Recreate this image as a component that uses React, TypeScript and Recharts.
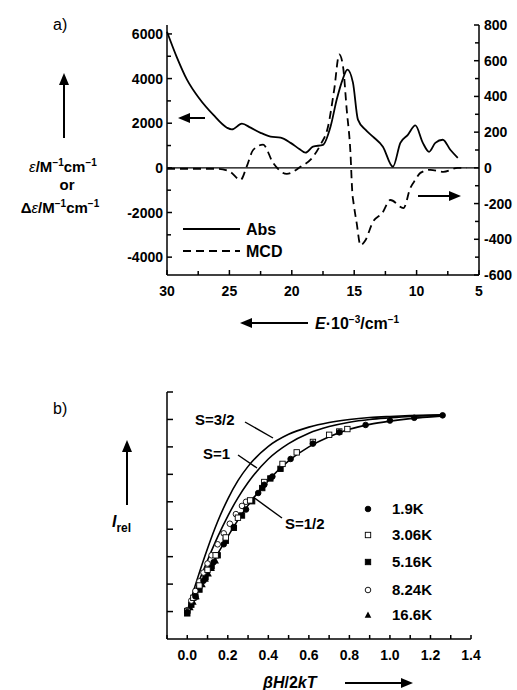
import React from "react";
import {
  ComposedChart,
  Line,
  LineChart,
  ReferenceLine,
  Scatter,
  XAxis,
  YAxis,
} from "recharts";

const FONT = '"Liberation Sans", Arial, Helvetica, sans-serif';

// ---- panel a: absorption (left axis) and MCD (right axis) vs energy ----
const absE = [30, 29.2, 28.4, 27.35, 26.3, 25.2, 24.8, 24.0, 23.3, 22.5, 21.7, 20.9, 20.1, 19.4, 18.9, 18.3, 17.5, 16.9, 16.4, 15.9, 15.55, 15.1, 14.7, 14.1, 13.5, 12.7, 11.9, 11.3, 10.7, 10.1, 9.5, 9.0, 8.5, 7.9, 7.3, 6.7];
const absVal = [6100, 4940, 3950, 3060, 2380, 1800, 1720, 1980, 1800, 1570, 1400, 1350, 1120, 850, 680, 950, 1030, 1840, 3060, 4000, 4400, 3820, 2160, 1710, 1400, 950, 50, 1120, 1480, 1900, 1120, 720, 1120, 1260, 810, 450];

const mcdE = [30, 28, 26, 25, 24.1, 23.6, 23.1, 22.3, 21.5, 20.4, 19.3, 18.3, 17.7, 17.1, 16.6, 16.2, 15.9, 15.6, 15.3, 15.15, 15.05, 14.8, 14.5, 14.1, 13.5, 12.75, 12.1, 11.05, 10.5, 10.1, 9.7, 8.9, 7.85, 6.7, 6.0];
const mcdVal = [-5, -5, -5, -20, -67, 10, 100, 130, 28, -34, 6, 62, 130, 230, 440, 635, 570, 326, 84, -140, -197, -310, -433, -405, -303, -253, -180, -225, -112, -67, -28, -11, -22, 0, 0];

const eTicks = [30, 27.5, 25, 22.5, 20, 17.5, 15, 12.5, 10, 7.5, 5];
const leftTicks = [-4000, -3000, -2000, -1000, 0, 1000, 2000, 3000, 4000, 5000, 6000];
const rightTicks = [-600, -500, -400, -300, -200, -100, 0, 100, 200, 300, 400, 500, 600, 700, 800];

// ---- panel b: relative intensity vs beta H / 2kT ----
const fitX = [0, 0.05, 0.1, 0.15, 0.2, 0.25, 0.3, 0.4, 0.5, 0.6, 0.7, 0.8, 0.9, 1.0, 1.1, 1.25];
const fitHalf = [1.0, 1.72, 2.42, 3.1, 3.73, 4.33, 4.87, 5.78, 6.49, 7.0, 7.37, 7.64, 7.82, 7.94, 8.03, 8.12];
const fitOne = [1.0, 1.96, 2.87, 3.72, 4.48, 5.14, 5.7, 6.56, 7.12, 7.5, 7.74, 7.9, 8.0, 8.06, 8.11, 8.15];
const fitThreeHalf = [1.0, 2.2, 3.3, 4.28, 5.1, 5.77, 6.29, 7.02, 7.46, 7.72, 7.89, 8.0, 8.07, 8.11, 8.14, 8.17];

const k19X = [0, 0.04, 0.08, 0.13, 0.18, 0.23, 0.29, 0.35, 0.38, 0.42, 0.51, 0.62, 0.75, 0.88, 1.0, 1.12, 1.26];
const k19V = [0.98, 1.55, 2.12, 2.8, 3.45, 4.08, 4.72, 5.32, 5.62, 5.92, 6.56, 7.12, 7.53, 7.8, 7.96, 8.06, 8.15];
const k306X = [0, 0.03, 0.06, 0.1, 0.14, 0.19, 0.25, 0.31, 0.38, 0.47, 0.54, 0.62, 0.7, 0.75, 0.79];
const k306V = [1.02, 1.5, 1.95, 2.52, 3.05, 3.7, 4.42, 5.05, 5.72, 6.38, 6.8, 7.18, 7.44, 7.56, 7.65];
const k516X = [0, 0.02, 0.04, 0.06, 0.09, 0.12, 0.15, 0.19, 0.23, 0.27, 0.32, 0.37, 0.41, 0.46];
const k516V = [0.95, 1.25, 1.55, 1.82, 2.25, 2.65, 3.05, 3.58, 4.05, 4.5, 5.02, 5.5, 5.85, 6.2];
const k824X = [0, 0.02, 0.04, 0.06, 0.08, 0.1, 0.12, 0.15, 0.18, 0.21, 0.24, 0.27, 0.29];
const k824V = [1.05, 1.4, 1.75, 2.1, 2.42, 2.75, 3.05, 3.45, 3.85, 4.2, 4.55, 4.85, 5.0];
const k166X = [0, 0.015, 0.03, 0.045, 0.06, 0.075, 0.09, 0.105, 0.12, 0.14];
const k166V = [0.92, 1.15, 1.35, 1.55, 1.78, 1.98, 2.18, 2.38, 2.58, 2.85];

const bxTicks = [-0.1, 0, 0.1, 0.2, 0.3, 0.4, 0.5, 0.6, 0.7, 0.8, 0.9, 1.0, 1.1, 1.2, 1.3, 1.4];
const byTicks = [0, 1, 2, 3, 4, 5, 6, 7, 8, 9];

const legendLabels = ["1.9K", "3.06K", "5.16K", "8.24K", "16.6K"];

const zip = (xs: number[], vs: number[]) => xs.map((x, i) => ({ x, v: vs[i] }));

const absData = zip(absE, absVal);
const mcdData = zip(mcdE, mcdVal);

type Side = "bottom" | "left" | "right";

function makeTick(side: Side, len: (v: number) => number, label: (v: number) => string | null, size = 14) {
  return (props: any) => {
    const { x, y, payload } = props;
    const v = payload.value as number;
    const l = len(v);
    const t = label(v);
    const txt = { fontFamily: FONT, fontWeight: 700, fontSize: size, fill: "#000" };
    if (side === "bottom") {
      return (
        <g>
          {l > 0 && <line x1={x} x2={x} y1={y} y2={y - l} stroke="#000" strokeWidth={1.5} />}
          {t && (
            <text x={x} y={y + 21} textAnchor="middle" {...txt}>
              {t}
            </text>
          )}
        </g>
      );
    }
    if (side === "left") {
      return (
        <g>
          {l > 0 && <line x1={x} x2={x + l} y1={y} y2={y} stroke="#000" strokeWidth={1.5} />}
          {t && (
            <text x={x - 4} y={y + 5} textAnchor="end" {...txt}>
              {t}
            </text>
          )}
        </g>
      );
    }
    return (
      <g>
        {l > 0 && <line x1={x} x2={x - l} y1={y} y2={y} stroke="#000" strokeWidth={1.5} />}
        {t && (
          <text x={x + 5} y={y + 5} textAnchor="start" {...txt}>
            {t}
          </text>
        )}
      </g>
    );
  };
}

const dot = (fill: string) => (p: any) => (
  <circle cx={p.cx} cy={p.cy} r={2.8} fill={fill} stroke="#000" strokeWidth={0.9} />
);
const square = (fill: string) => (p: any) => (
  <rect x={p.cx - 2.7} y={p.cy - 2.7} width={5.4} height={5.4} fill={fill} stroke="#000" strokeWidth={0.9} />
);
const triangle = (p: any) => (
  <polygon points={`${p.cx},${p.cy - 3.5} ${p.cx - 3.3},${p.cy + 2.7} ${p.cx + 3.3},${p.cy + 2.7}`} fill="#000" />
);

function PanelA() {
  return (
    <LineChart width={517} height={310} margin={{ top: 25, right: 0, bottom: 5, left: 107 }}>
      <XAxis
        type="number"
        dataKey="x"
        domain={[5, 30]}
        reversed
        ticks={eTicks}
        interval={0}
        height={30}
        tickSize={0}
        tickMargin={0}
        tickLine={false}
        axisLine={{ stroke: "#000", strokeWidth: 1.5 }}
        tick={makeTick("bottom", (v) => (v % 5 === 0 ? 5 : 4), (v) => (v % 5 === 0 ? String(v) : null))}
      />
      <YAxis
        yAxisId="l"
        type="number"
        domain={[-4800, 6400]}
        ticks={leftTicks}
        interval={0}
        width={60}
        tickSize={0}
        tickMargin={0}
        tickLine={false}
        axisLine={{ stroke: "#000", strokeWidth: 1.5 }}
        tick={makeTick("left", (v) => (v % 2000 === 0 ? 5 : 4), (v) => (v % 2000 === 0 ? String(v) : null))}
      />
      <YAxis
        yAxisId="r"
        orientation="right"
        type="number"
        domain={[-600, 800]}
        ticks={rightTicks}
        interval={0}
        width={38}
        tickSize={0}
        tickMargin={0}
        tickLine={false}
        axisLine={{ stroke: "#000", strokeWidth: 1.5 }}
        tick={makeTick("right", (v) => (v % 200 === 0 ? 5 : 4), (v) => (v % 200 === 0 ? String(v) : null))}
      />
      <ReferenceLine yAxisId="l" y={0} stroke="#000" strokeWidth={1.3} />
      <Line
        yAxisId="l"
        data={absData}
        dataKey="v"
        type="monotone"
        stroke="#000"
        strokeWidth={1.8}
        dot={false}
        isAnimationActive={false}
      />
      <Line
        yAxisId="r"
        data={mcdData}
        dataKey="v"
        type="monotone"
        stroke="#000"
        strokeWidth={1.8}
        strokeDasharray="8 5"
        dot={false}
        isAnimationActive={false}
      />
    </LineChart>
  );
}

function PanelB() {
  const lineProps = {
    dataKey: "v",
    type: "monotone" as const,
    stroke: "#000",
    strokeWidth: 1.6,
    dot: false,
    isAnimationActive: false,
  };
  return (
    <ComposedChart width={517} height={340} margin={{ top: 62, right: 46, bottom: 0, left: 100 }}>
      <XAxis
        type="number"
        dataKey="x"
        domain={[-0.1, 1.4]}
        ticks={bxTicks}
        interval={0}
        height={31}
        tickSize={0}
        tickMargin={0}
        tickLine={false}
        axisLine={{ stroke: "#000", strokeWidth: 1.5 }}
        tick={makeTick(
          "bottom",
          () => 4,
          (v) => (v >= 0 && Math.round(v * 10) % 2 === 0 ? v.toFixed(1) : null)
        )}
      />
      <YAxis
        type="number"
        dataKey="v"
        domain={[0, 9]}
        ticks={byTicks}
        interval={0}
        width={67}
        tickSize={0}
        tickMargin={0}
        tickLine={false}
        axisLine={{ stroke: "#000", strokeWidth: 1.5 }}
        tick={makeTick("left", (v) => (v === 0 ? 0 : 6), () => null)}
      />
      <Line data={zip(fitX, fitThreeHalf)} {...lineProps} />
      <Line data={zip(fitX, fitOne)} {...lineProps} />
      <Line data={zip(fitX, fitHalf)} {...lineProps} />
      <Scatter data={zip(k166X, k166V)} dataKey="v" shape={triangle} isAnimationActive={false} />
      <Scatter data={zip(k516X, k516V)} dataKey="v" shape={square("#000")} isAnimationActive={false} />
      <Scatter data={zip(k824X, k824V)} dataKey="v" shape={dot("#fff")} isAnimationActive={false} />
      <Scatter data={zip(k306X, k306V)} dataKey="v" shape={square("#fff")} isAnimationActive={false} />
      <Scatter data={zip(k19X, k19V)} dataKey="v" shape={dot("#000")} isAnimationActive={false} />
    </ComposedChart>
  );
}

function Arrow({ x1, y1, x2, y2 }: { x1: number; y1: number; x2: number; y2: number }) {
  // line from (x1,y1) to the tip (x2,y2)
  const a = Math.atan2(y2 - y1, x2 - x1);
  const hl = 12;
  const hw = 5;
  const bx = x2 - hl * Math.cos(a);
  const by = y2 - hl * Math.sin(a);
  const px = -Math.sin(a) * hw;
  const py = Math.cos(a) * hw;
  return (
    <g>
      <line x1={x1} y1={y1} x2={bx} y2={by} stroke="#000" strokeWidth={2} />
      <polygon points={`${x2},${y2} ${bx + px},${by + py} ${bx - px},${by - py}`} fill="#000" />
    </g>
  );
}

function Overlay() {
  const bold = { fontFamily: FONT, fontWeight: 700, fill: "#000" };
  const sup = (s: string) => (
    <tspan dy={-6} fontSize={10}>
      {s}
    </tspan>
  );
  const down = (s: string) => (
    <tspan dy={6} fontSize={15}>
      {s}
    </tspan>
  );
  const markers = [dot("#000"), square("#fff"), square("#000"), dot("#fff"), triangle];
  const legendY = [509, 535, 562, 590, 615];
  return (
    <svg width={517} height={690} style={{ position: "absolute", left: 0, top: 0, pointerEvents: "none" }}>
      {/* panel a */}
      <text x={53} y={30} fontFamily={FONT} fontSize={16} fill="#000">a)</text>
      <Arrow x1={64} y1={138} x2={64} y2={73} />
      <text x={63} y={172} textAnchor="middle" fontSize={15} {...bold}>
        <tspan fontStyle="italic" fontWeight={400}>ε</tspan>/M{sup("−1")}{down("cm")}{sup("−1")}
      </text>
      <text x={67} y={190} textAnchor="middle" fontSize={15} {...bold}>or</text>
      <text x={60} y={213} textAnchor="middle" fontSize={15} {...bold}>
        Δ<tspan fontStyle="italic" fontWeight={400}>ε</tspan>/M{sup("−1")}{down("cm")}{sup("−1")}
      </text>
      <Arrow x1={205} y1={118} x2={178} y2={118} />
      <Arrow x1={418} y1={196} x2={461} y2={196} />
      <line x1={183} y1={229} x2={240} y2={229} stroke="#000" strokeWidth={1.8} />
      <text x={246} y={235} fontSize={16} {...bold}>Abs</text>
      <line x1={183} y1={251} x2={240} y2={251} stroke="#000" strokeWidth={1.8} strokeDasharray="8 5" />
      <text x={246} y={257} fontSize={16} {...bold}>MCD</text>
      <Arrow x1={308} y1={323} x2={240} y2={323} />
      <text x={315} y={329} fontSize={16} {...bold}>
        <tspan fontStyle="italic">E</tspan>·10{sup("−3")}
        <tspan dy={6}>/cm</tspan>
        {sup("−1")}
      </text>

      {/* panel b */}
      <text x={53} y={414} fontFamily={FONT} fontSize={16} fill="#000">b)</text>
      <Arrow x1={127} y1={505} x2={127} y2={440} />
      <text x={112} y={527} fontSize={16} {...bold}>
        <tspan fontStyle="italic">I</tspan>
        <tspan dy={5} fontSize={12}>rel</tspan>
      </text>
      <text x={195} y={425} fontSize={15} {...bold}>S=3/2</text>
      <line x1={245} y1={422} x2={273} y2={438} stroke="#000" strokeWidth={1.4} />
      <text x={203} y={459} fontSize={15} {...bold}>S=1</text>
      <line x1={238} y1={455} x2={257} y2={468} stroke="#000" strokeWidth={1.4} />
      <text x={285} y={529} fontSize={15} {...bold}>S=1/2</text>
      <line x1={282} y1={518} x2={253} y2={497} stroke="#000" strokeWidth={1.4} />
      {legendLabels.map((lab, i) => (
        <g key={lab}>
          {markers[i]({ cx: 368, cy: legendY[i] })}
          <text x={392} y={legendY[i] + 5} fontSize={15} {...bold}>{lab}</text>
        </g>
      ))}
      <text x={263} y={688} fontSize={16} {...bold}>
        <tspan fontStyle="italic">βH</tspan>/2<tspan fontStyle="italic">kT</tspan>
      </text>
      <Arrow x1={345} y1={683} x2={413} y2={683} />
    </svg>
  );
}

export default function App() {
  return (
    <div style={{ position: "absolute", left: 0, top: 0, width: 517, height: 690, background: "#fff" }}>
      <div style={{ position: "absolute", left: 0, top: 0 }}>
        <PanelA />
      </div>
      <div style={{ position: "absolute", left: 0, top: 330 }}>
        <PanelB />
      </div>
      <Overlay />
    </div>
  );
}
